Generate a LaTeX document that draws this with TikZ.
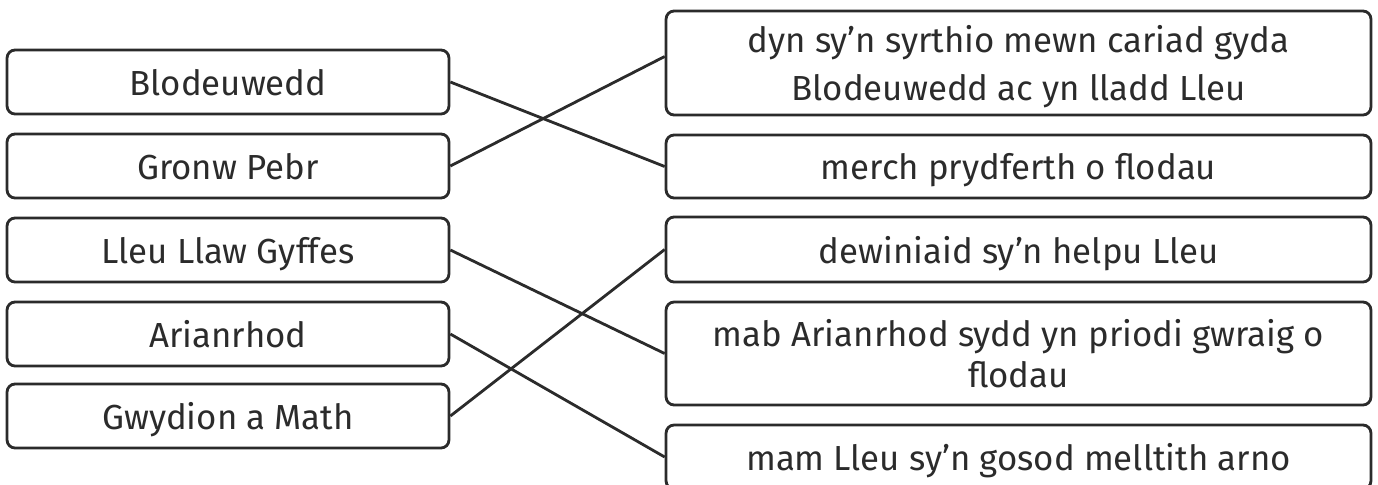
\documentclass[tikz,border=0pt]{standalone}
\usepackage{fontspec}
\setmainfont{Fira Sans}
\definecolor{ink}{HTML}{2B2B2B}
\tikzset{
  card/.style={draw=ink, line width=1.6pt, rounded corners=0.16cm, align=center,
    inner sep=0pt, text depth=0pt, text=ink, font=\fontsize{19.8}{27.5}\selectfont},
  leftcard/.style={card, minimum width=8.84cm, minimum height=1.28cm},
  rightcard/.style={card, minimum width=14.1cm},
  link/.style={draw=ink, line width=1.6pt}
}
\begin{document}
\begin{tikzpicture}[x=0.02cm,y=-0.02cm]
\clip (0,0) rectangle (1378,484);
\node[leftcard] (blod) at (228,82) {Blodeuwedd};
\node[leftcard] (gronw) at (228,166) {Gronw Pebr};
\node[leftcard] (lleu) at (228,250) {Lleu Llaw Gyffes};
\node[leftcard] (arian) at (228,334) {Arianrhod};
\node[leftcard] (gwyd) at (228,416) {Gwydion a Math};
\node[rightcard, minimum height=2.08cm] (dyn) at (1018.5,63) {dyn sy’n syrthio mewn cariad gyda\\Blodeuwedd ac yn lladd Lleu};
\node[rightcard, minimum height=1.26cm] (merch) at (1018.5,166.5) {merch prydferth o flodau};
\node[rightcard, minimum height=1.3cm] (dewin) at (1018.5,249.5) {dewiniaid sy’n helpu Lleu};
\node[rightcard, minimum height=2.06cm, font=\fontsize{19.8}{23.3}\selectfont] (mab) at (1018.5,353.5) {mab Arianrhod sydd yn priodi gwraig o\\flodau};
\node[rightcard, minimum height=1.28cm] (mam) at (1018.5,457) {mam Lleu sy’n gosod melltith arno};
\draw[link] (blod.east) -- (merch.west);
\draw[link] (gronw.east) -- ([yshift=0.13cm]dyn.west);
\draw[link] (lleu.east) -- (mab.west);
\draw[link] (arian.east) -- (mam.west);
\draw[link] (gwyd.east) -- (dewin.west);
\end{tikzpicture}
\end{document}
